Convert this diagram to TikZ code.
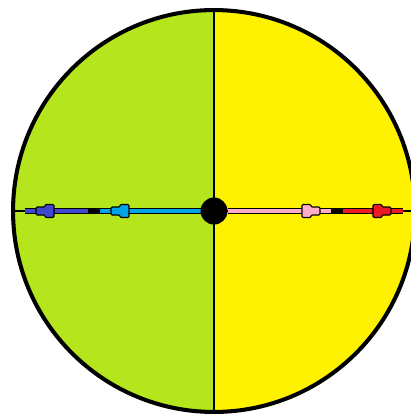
\documentclass[tikz,border=0pt]{standalone}
\usepackage{xcolor}
\usepackage{tikz}
\usetikzlibrary{arrows.meta}
\definecolor{discgreen}{RGB}{181,230,29}
\definecolor{discyellow}{RGB}{255,242,0}
\definecolor{vecnavy}{RGB}{63,72,204}
\definecolor{veccyan}{RGB}{0,162,232}
\definecolor{vecpink}{RGB}{255,174,201}
\definecolor{vecred}{RGB}{237,28,36}

\begin{document}
\begin{tikzpicture}[x=0.02cm, y=-0.02cm,
    rim/.style={line width=3.4pt, black},
    bar/.style={line width=2.2pt},
    hair/.style={line width=0.8pt, black},
    hubdot/.style={circle, fill=black, inner sep=0pt, minimum size=0.54cm},
    pics/head/.style={code={
      \filldraw[fill=#1, draw=black, line width=0.6pt, rounded corners=0.6pt]
        (0,-4) -- (-9,-4) -- (-9,-6.5) -- (-18,-6.5) -- (-18,6.5)
        -- (-9,6.5) -- (-9,4) -- (0,4) -- cycle;}}]
  \useasboundingbox (0,0) rectangle (411,417);
  \coordinate (c) at (214,211);
  % the two halves of the disc
  \begin{scope}
    \clip (c) circle[radius=4.02cm];
    \fill[discgreen] (0,0) rectangle (214,417);
    \fill[discyellow] (214,0) rectangle (440,417);
  \end{scope}
  \draw[line width=2.3pt] (c) circle[radius=4.02cm];
  \coordinate (top) at (214,10);
  \coordinate (bot) at (214,414);
  \coordinate (west) at (13,211);
  \coordinate (east) at (416,211);
  \draw[hair] (top) -- (bot);
  \draw[hair] (west) -- (east);
  % ends of the bars and their tips
  \coordinate (l0) at (25,211);
  \coordinate (l1) at (36,211);
  \coordinate (l2) at (88,211);
  \coordinate (l3) at (100,211);
  \coordinate (l4) at (111,211);
  \coordinate (l5) at (203,211);
  \coordinate (r0) at (228,211);
  \coordinate (r1) at (320,211);
  \coordinate (r2) at (331,211);
  \coordinate (r3) at (343,211);
  \coordinate (r4) at (391,211);
  \coordinate (r5) at (403,211);
  % black outlines
  \draw[rim] (l0) -- (l5);
  \draw[rim] (r0) -- (r5);
  % coloured bars
  \draw[bar, vecnavy] (l0) -- (l2);
  \draw[bar, veccyan] (l3) -- (l5);
  \draw[bar, vecpink] (r0) -- (r2);
  \draw[bar, vecred] (r3) -- (r5);
  % arrow heads
  \pic[rotate=180] at (l1) {head=vecnavy};
  \pic[rotate=180] at (l4) {head=veccyan};
  \pic at (r1) {head=vecpink};
  \pic at (r4) {head=vecred};
  \node[hubdot] (hub) at (c) {};
\end{tikzpicture}
\end{document}
